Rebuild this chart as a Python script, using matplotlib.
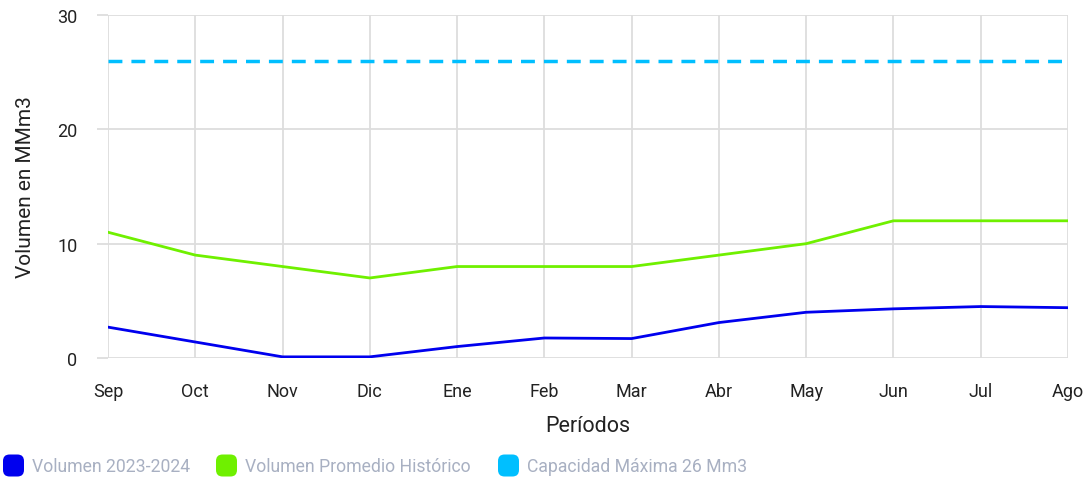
import matplotlib
matplotlib.use("Agg")
import matplotlib.pyplot as plt
from matplotlib.patches import FancyBboxPatch

plt.rcParams['font.family'] = ['Roboto', 'DejaVu Sans']

# Data
periodos = ["Sep", "Oct", "Nov", "Dic", "Ene", "Feb", "Mar", "Abr", "May", "Jun", "Jul", "Ago"]
volumen_2023_2024 = [2.7, 1.4, 0.1, 0.1, 1.0, 1.75, 1.7, 3.1, 4.0, 4.3, 4.5, 4.4]
volumen_promedio = [11, 9, 8, 7, 8, 8, 8, 9, 10, 12, 12, 12]
capacidad_maxima = [26] * len(periodos)
y_ticks = [0, 10, 20, 30]

series_names = ["Volumen 2023-2024", "Volumen Promedio Histórico", "Capacidad Máxima 26 Mm3"]
series_colors = ["#0000ee", "#6ff000", "#00bfff"]

W, H = 1090, 481
fig = plt.figure(figsize=(W / 100, H / 100), dpi=100)
ax = fig.add_axes([108 / W, 1 - 359 / H, (1068 - 108) / W, (359 - 16) / H])

x = list(range(len(periodos)))
ax.plot(x, volumen_2023_2024, color=series_colors[0], lw=2, zorder=3)
ax.plot(x, volumen_promedio, color=series_colors[1], lw=2, zorder=3)
ax.plot(x, capacidad_maxima, color=series_colors[2], lw=2.5, ls=(0, (4, 2.6)), zorder=3)

ax.set_xlim(0, len(periodos) - 1)
ax.set_ylim(0, 30)
ax.set_xticks(x)
ax.set_xticklabels(periodos)
ax.set_yticks(y_ticks)

for s in ax.spines.values():
    s.set_visible(False)
ax.grid(True, color="#dddddd", lw=1.3, zorder=0)
ax.tick_params(axis="y", length=8, color="#dddddd", width=1.3, pad=14,
               labelsize=13, labelcolor="#222222")
ax.tick_params(axis="x", length=0, pad=17, labelsize=13, labelcolor="#222222")
ax.set_xlabel("Períodos", fontsize=15.5, color="#222222", labelpad=11)
ax.set_ylabel("Volumen en MMm3", fontsize=15, color="#222222", labelpad=16)

# Legend row beneath the plot
legend_x = [3, 216, 498]
y_c = 467
for name, col, lx in zip(series_names, series_colors, legend_x):
    box = FancyBboxPatch((lx / W, (H - y_c - 10.5) / H), 21 / W, 22 / H,
                         boxstyle="round,pad=0,rounding_size=0.006",
                         transform=fig.transFigure, facecolor=col,
                         edgecolor="none", mutation_aspect=W / H)
    fig.patches.append(box)
    fig.text((lx + 29) / W, (H - y_c) / H, name, fontsize=12.7, color="#a8b0c2",
             va="center", ha="left")

fig.savefig("out.png", dpi=100)
